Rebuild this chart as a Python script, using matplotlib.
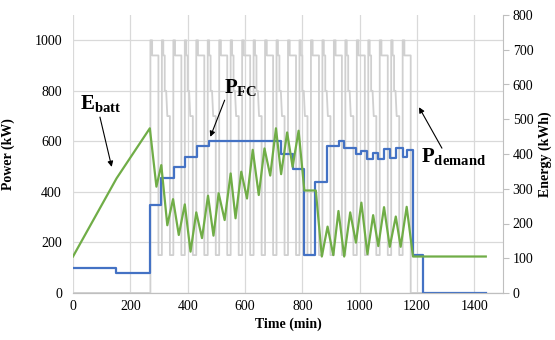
import matplotlib
matplotlib.use('Agg')
import matplotlib.pyplot as plt

plt.rcParams['font.family'] = ['Liberation Serif', 'DejaVu Serif']
plt.rcParams['mathtext.fontset'] = 'custom'
plt.rcParams['mathtext.rm'] = 'Liberation Serif'
plt.rcParams['mathtext.bf'] = 'Liberation Serif:bold'

# fuel cell power (kW), step changes
fc_time = [0, 150, 270, 307, 351, 392, 432, 473, 726, 768, 807, 845, 887, 929,
           946, 988, 1005, 1025, 1045, 1065, 1085, 1105, 1125, 1150, 1165, 1185,
           1222, 1440]
fc_power = [100, 80, 350, 455, 500, 540, 580, 600, 550, 490, 150, 440, 580, 600,
            575, 550, 560, 530, 555, 530, 570, 535, 575, 540, 565, 150,
            0, 0]

# battery energy (kWh)
batt_time = [0, 152, 268, 291, 308, 329, 349, 369, 390, 410, 430, 450, 471, 490,
             508, 529, 550, 567, 587, 607, 627, 648, 668, 688, 708, 726, 747, 766,
             787, 807, 847, 868, 888, 908, 926, 946, 967, 987, 1006, 1027, 1047,
             1065, 1085, 1105, 1126, 1143, 1164, 1186, 1440]
batt_energy = [105, 330, 474, 306, 368, 195, 270, 167, 255, 119, 232, 158, 280, 165,
               287, 210, 344, 215, 349, 272, 412, 282, 416, 338, 474, 342, 462, 363,
               467, 295, 295, 105, 191, 109, 236, 105, 232, 145, 260, 112, 224,
               135, 247, 133, 220, 133, 248, 105, 105]

# power demand (kW): pulse start times and pulse shapes
pulse_start = [270, 310, 350, 390, 430, 470, 510, 550, 590, 630, 670, 710, 750,
               790, 830, 870, 910, 950, 990, 1030, 1070, 1110, 1150]
pulse_kind = ['A', 'B', 'A', 'B', 'A', 'B', 'A', 'B', 'A', 'B', 'A', 'B', 'A',
              'B', 'A', 'B', 'A', 'B', 'A', 'B', 'A', 'B', 'A']
# (offset min, level kW) corner points of one pulse
pulse_shape = {
    'A': [(0, 1000), (6, 1000), (6, 940), (28, 940)],
    'B': [(0, 1000), (5, 1000), (5, 940), (10, 940), (10, 800), (15, 800),
          (19, 700), (28, 700)],
}
demand_low = 150
end_time = 1440


def demand_curve():
    t, p = [0], [0]
    for i, (s, k) in enumerate(zip(pulse_start, pulse_kind)):
        t.append(s)
        p.append(p[-1])
        for off, lvl in pulse_shape[k]:
            t.append(s + off)
            p.append(lvl)
        low = 0 if i == len(pulse_start) - 1 else demand_low
        t.append(t[-1])
        p.append(low)
    t.append(end_time)
    p.append(0)
    return t, p


def main():
    fig = plt.figure(figsize=(5.55, 3.4), dpi=100)
    ax = fig.add_axes([73 / 555, 1 - 293 / 340, 430 / 555, 278 / 340])
    ax2 = ax.twinx()

    grid_c = '#D9D9D9'
    spine_c = '#BFBFBF'

    ax.set_xlim(0, 1500)
    ax.set_ylim(0, 1100)
    ax2.set_ylim(0, 800)
    ax.set_xticks(range(0, 1401, 200))
    ax.set_yticks(range(0, 1001, 200))
    ax2.set_yticks(range(0, 801, 100))
    ax.grid(True, color=grid_c, lw=0.9)
    ax.set_axisbelow(True)

    for a in (ax, ax2):
        a.spines['top'].set_visible(False)
        a.spines['left'].set_visible(False)
        a.spines['bottom'].set_color(spine_c)
        a.spines['right'].set_color(spine_c)
    ax.spines['right'].set_visible(False)

    ax.tick_params(axis='y', length=0, labelsize=10, pad=8)
    ax.tick_params(axis='x', length=0, labelsize=10, pad=5)
    ax2.tick_params(axis='y', length=4, color=spine_c, labelsize=10, pad=3)

    dt, dp = demand_curve()
    ax.plot(dt, dp, color='#D0D0D0', lw=1.3, zorder=2)
    ax.step(fc_time, fc_power, where='post', color='#4472C4', lw=1.6, zorder=3)
    ax2.plot(batt_time, batt_energy, color='#70AD47', lw=1.6, zorder=3)

    ax.set_xlabel('Time (min)', fontsize=10, fontweight='bold', labelpad=3)
    ax.set_ylabel('Power (kW)', fontsize=10, fontweight='bold')
    ax.yaxis.set_label_coords(-0.135, 0.5)
    ax2.set_ylabel('Energy (kWh)', fontsize=10, fontweight='bold')
    ax2.yaxis.set_label_coords(1.083, 0.5)

    arrow = dict(arrowstyle='-|>', color='black', lw=0.8, mutation_scale=8,
                 shrinkA=0, shrinkB=0)
    ax.text(97, 747, r'$\mathbf{E}_{\mathbf{batt}}$', fontsize=15,
            ha='center', va='center')
    ax.annotate('', xy=(135, 499), xytext=(94, 696), arrowprops=arrow)
    ax.text(584, 810, r'$\mathbf{P}_{\mathbf{FC}}$', fontsize=15,
            ha='center', va='center')
    ax.annotate('', xy=(479, 618), xytext=(529, 763), arrowprops=arrow)
    ax.text(1329, 538, r'$\mathbf{P}_{\mathbf{demand}}$', fontsize=15,
            ha='center', va='center')
    ax.annotate('', xy=(1207, 735), xytext=(1287, 573), arrowprops=arrow)

    fig.savefig('out.png', dpi=100)


if __name__ == '__main__':
    main()
